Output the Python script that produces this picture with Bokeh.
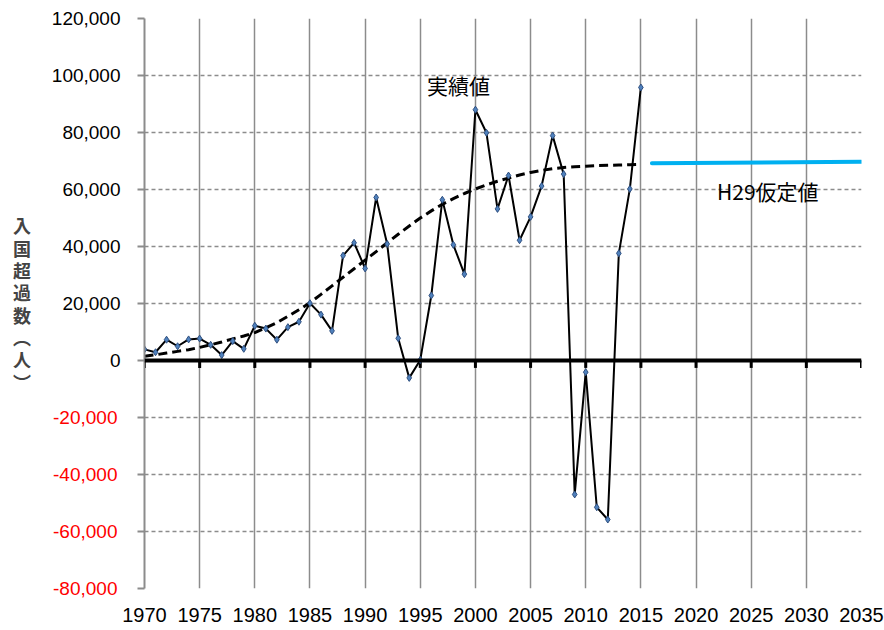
from bokeh.plotting import figure
from bokeh.models import (Range1d, FixedTicker, CustomJSTickFormatter, NumeralTickFormatter,
                          Span, Label, LinearAxis)
from bokeh.embed import file_html
from bokeh.resources import INLINE

# ---- data ----
years = list(range(1970, 2016))
actual = [3900, 2900, 7300, 5000, 7400, 7700, 5500, 1900, 6800, 4100,
          12200, 11200, 7300, 11700, 13600, 20100, 16100, 10400, 36800, 41300,
          32300, 57200, 40900, 7800, -6100, 200, 22800, 56400, 40600, 30300,
          88000, 79900, 53200, 64900, 42200, 50400, 61200, 78900, 65400, -47000,
          -4100, -51500, -55800, 37600, 60200, 95800]
trend = [1500, 2000, 2600, 3200, 3800, 4600, 5500, 6500, 7600, 8600,
         9800, 11500, 13300, 15500, 17800, 20300, 23200, 26200, 29200, 32200,
         35200, 38200, 41300, 44300, 47200, 50000, 52500, 54800, 56800, 58600,
         60200, 61600, 62900, 64000, 65100, 66000, 66700, 67300, 67700, 68000,
         68200, 68400, 68500, 68600, 68700, 68800]
h29_years = [2016, 2035]
h29_values = [69200, 69700]

x_ticks = list(range(1970, 2036, 5))
y_ticks = list(range(-80000, 120001, 20000))
neg_ticks = [-80000, -60000, -40000, -20000]

y_title = "入国超過数︵人︶"
label_actual = "実績値"
label_h29 = "H29仮定値"

GRAY = "#8c8c8c"
NUM_FONT = "Liberation Sans"
JP_FONT = "Noto Sans CJK JP"

p = figure(width=884, height=630, output_backend="svg", toolbar_location=None,
           x_range=Range1d(1970, 2035), y_range=Range1d(-80000, 120000),
           min_border_left=144, min_border_right=23, min_border_top=18,
           min_border_bottom=42)
p.outline_line_color = None

# x axis (labels only)
p.xaxis.ticker = FixedTicker(ticks=x_ticks)
p.xaxis.axis_line_color = None
p.xaxis.major_tick_line_color = None
p.xaxis.minor_tick_line_color = None
p.xaxis.major_tick_out = 0
p.xaxis.major_label_text_font = NUM_FONT
p.xaxis.major_label_text_font_size = "20px"
p.xaxis.major_label_text_color = "black"
p.xaxis.major_label_standoff = 19

# inner y axis: gray line + ticks, black labels for >= 0
ya = p.yaxis[0]
ya.ticker = FixedTicker(ticks=y_ticks)
ya.formatter = CustomJSTickFormatter(
    code="return tick < 0 ? '' : tick.toLocaleString('en-US');")
ya.axis_line_color = GRAY
ya.axis_line_width = 2
ya.major_tick_line_color = GRAY
ya.major_tick_line_width = 2
ya.major_tick_out = 7
ya.major_tick_in = 0
ya.minor_tick_line_color = None
ya.major_label_text_font = NUM_FONT
ya.major_label_text_font_size = "19px"
ya.major_label_text_color = "black"
ya.major_label_standoff = 17

# outer y axis: red labels for < 0, pulled back under the inner axis' label column,
# and the stacked vertical axis title
yn = LinearAxis(ticker=FixedTicker(ticks=neg_ticks),
                formatter=NumeralTickFormatter(format="0,0"))
yn.axis_line_color = None
yn.major_tick_line_color = None
yn.minor_tick_line_color = None
yn.major_tick_out = 7
yn.major_tick_in = 0
yn.major_label_text_font = NUM_FONT
yn.major_label_text_font_size = "19px"
yn.major_label_text_color = "#FF0000"
yn.major_label_standoff = -76
yn.axis_label = "\n".join(y_title)
yn.axis_label_orientation = "horizontal"
yn.axis_label_text_font = JP_FONT
yn.axis_label_text_font_size = "18px"
yn.axis_label_text_font_style = "bold"
yn.axis_label_text_line_height = 0.86
yn.axis_label_standoff = 19
p.add_layout(yn, "left")

# grids
p.xgrid.ticker = FixedTicker(ticks=x_ticks)
p.xgrid.grid_line_color = GRAY
p.xgrid.grid_line_width = 1.5
p.ygrid.ticker = FixedTicker(ticks=y_ticks)
p.ygrid.grid_line_color = GRAY
p.ygrid.grid_line_width = 1.5
p.ygrid.grid_line_dash = "4 3"

# zero line with tick marks
p.add_layout(Span(location=0, dimension="width", line_color="black", line_width=4))
p.segment(x0=x_ticks, y0=[0] * len(x_ticks), x1=x_ticks, y1=[-2600] * len(x_ticks),
          line_color="black", line_width=3)

p.line(years, trend, line_color="black", line_width=3, line_dash="9 5")
p.line(years, actual, line_color="black", line_width=2)
p.scatter(years, actual, marker="diamond", size=7, fill_color="#4F81BD",
          line_color="#2F4F7F", line_width=1)
p.line(h29_years, h29_values, line_color="#00B0F0", line_width=4, line_cap="round")

p.add_layout(Label(x=1995.6, y=96800, text=label_actual, text_font=JP_FONT,
                   text_font_size="21px", text_baseline="middle", text_color="black"))
p.add_layout(Label(x=2021.9, y=59600, text=label_h29, text_font=JP_FONT,
                   text_font_size="21px", text_baseline="middle", text_color="black"))

open("out.html", "w").write(file_html(p, INLINE))
